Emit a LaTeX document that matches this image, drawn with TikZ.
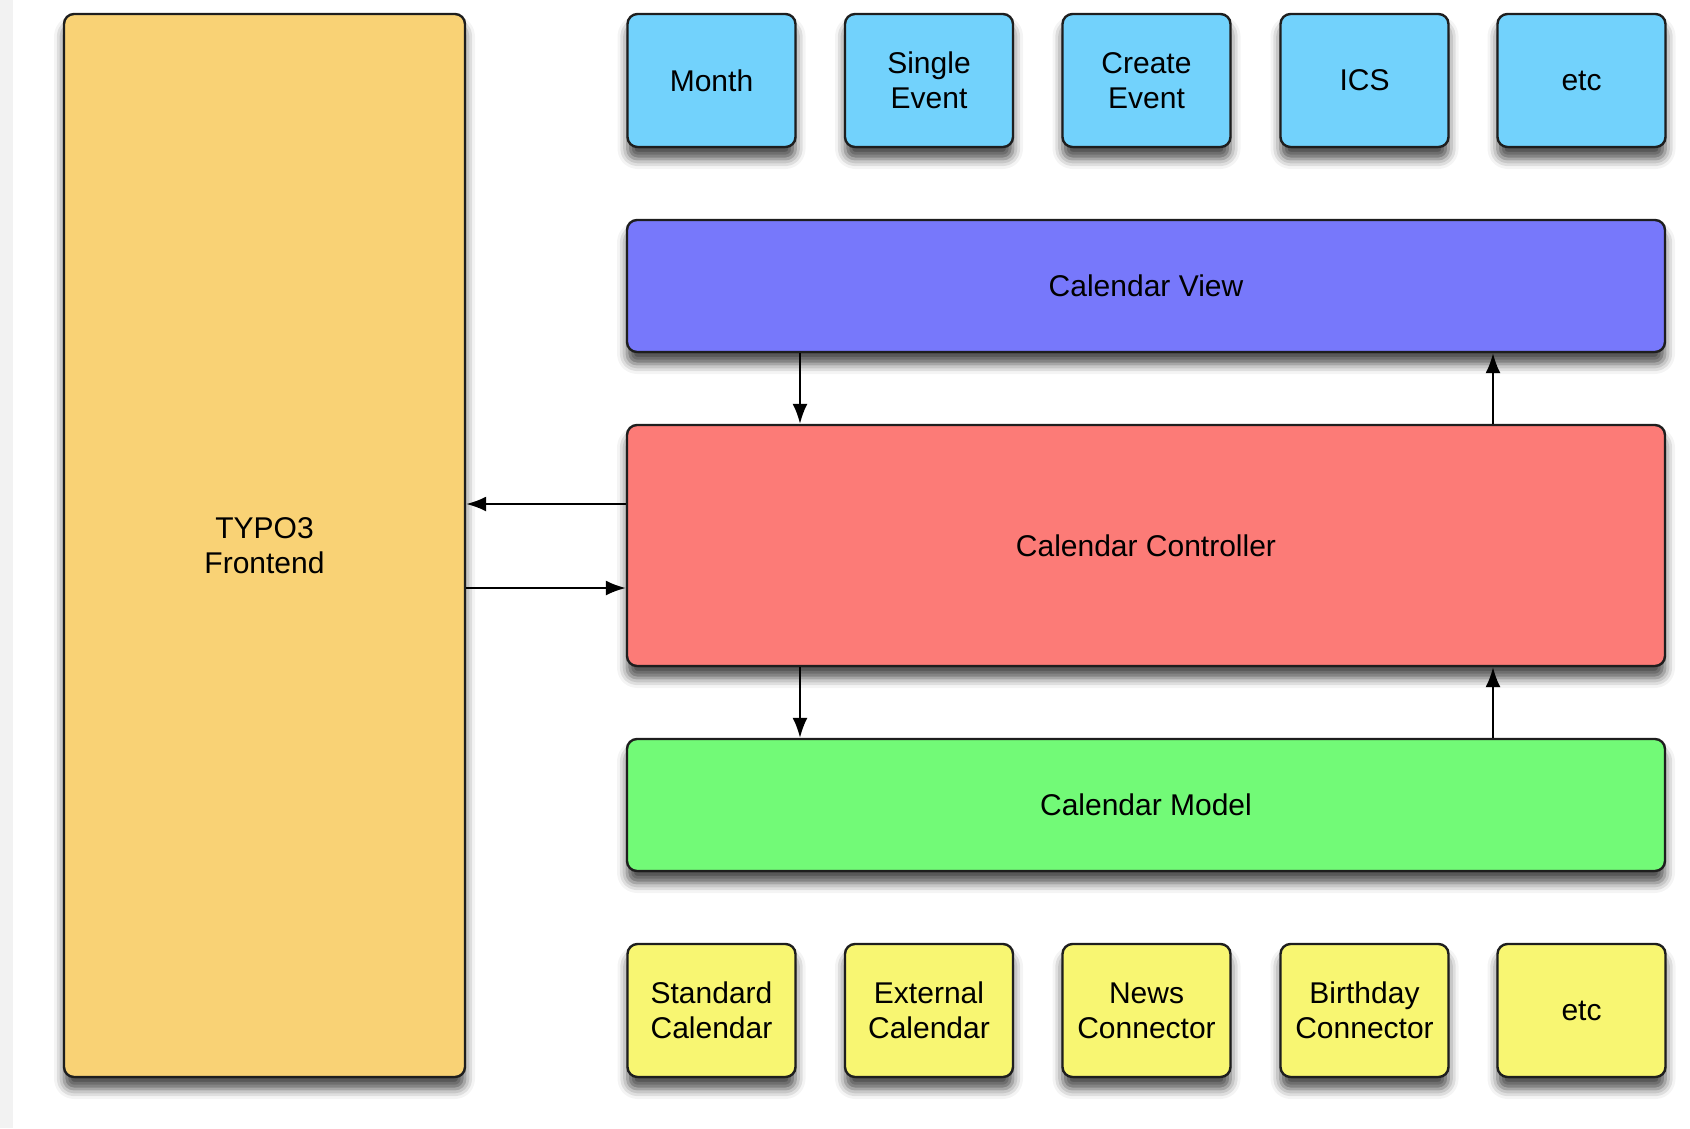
\documentclass[tikz,border=0pt]{standalone}
\usepackage{fontspec}
\setmainfont{Liberation Sans}
\usetikzlibrary{arrows.meta,shadows.blur}
\definecolor{typoC}{HTML}{F9D275}
\definecolor{viewsC}{HTML}{72D2FC}
\definecolor{viewC}{HTML}{7778FB}
\definecolor{ctrlC}{HTML}{FC7B77}
\definecolor{modelC}{HTML}{72FA77}
\definecolor{connC}{HTML}{F8F672}
\definecolor{edgeC}{HTML}{1E1E1E}
\begin{document}
\begin{tikzpicture}[x=1pt,y=-1pt,
  box/.style={draw=edgeC,line width=2.4pt,rounded corners=10pt,align=center,
    inner sep=0pt,text=black,
    font=\fontsize{30}{35}\selectfont,
    blur shadow={shadow xshift=0pt,shadow yshift=-12pt,shadow blur radius=10pt,shadow opacity=70}},
  small/.style={box,minimum width=168pt,minimum height=133pt},
  arr/.style={line width=2pt,-{Latex[length=20pt,width=15pt]}}]
\useasboundingbox (0,0) rectangle (1690,1128);
\fill[black!5] (0,0) rectangle (13,1128);
\node[box,fill=typoC,minimum width=401pt,minimum height=1063pt] (typo) at (264.5,545.5) {TYPO3\\Frontend};
\node[small,fill=viewsC] (v1) at (711.5,80.5) {Month};
\node[small,fill=viewsC] (v2) at (929,80.5) {Single\\Event};
\node[small,fill=viewsC] (v3) at (1146.5,80.5) {Create\\Event};
\node[small,fill=viewsC] (v4) at (1364.5,80.5) {ICS};
\node[small,fill=viewsC] (v5) at (1581.5,80.5) {etc};
\node[box,fill=viewC,minimum width=1038pt,minimum height=132pt] (view) at (1146,286) {Calendar View};
\node[box,fill=ctrlC,minimum width=1038pt,minimum height=241pt] (ctrl) at (1146,545.5) {Calendar Controller};
\node[box,fill=modelC,minimum width=1038pt,minimum height=132pt] (model) at (1146,805) {Calendar Model};
\node[small,fill=connC] (c1) at (711.5,1010.5) {Standard\\Calendar};
\node[small,fill=connC] (c2) at (929,1010.5) {External\\Calendar};
\node[small,fill=connC] (c3) at (1146.5,1010.5) {News\\Connector};
\node[small,fill=connC] (c4) at (1364.5,1010.5) {Birthday\\Connector};
\node[small,fill=connC] (c5) at (1581.5,1010.5) {etc};
\coordinate (xl) at (800,0);
\coordinate (xr) at (1493,0);
\coordinate (ya) at (0,504);
\coordinate (yb) at (0,588);
\draw[arr] (view.south -| xl) -- (ctrl.north -| xl);
\draw[arr] (ctrl.north -| xr) -- (view.south -| xr);
\draw[arr] (ctrl.south -| xl) -- (model.north -| xl);
\draw[arr] (model.north -| xr) -- (ctrl.south -| xr);
\draw[arr] (ctrl.west |- ya) -- (typo.east |- ya);
\draw[arr] (typo.east |- yb) -- (ctrl.west |- yb);
\end{tikzpicture}
\end{document}
